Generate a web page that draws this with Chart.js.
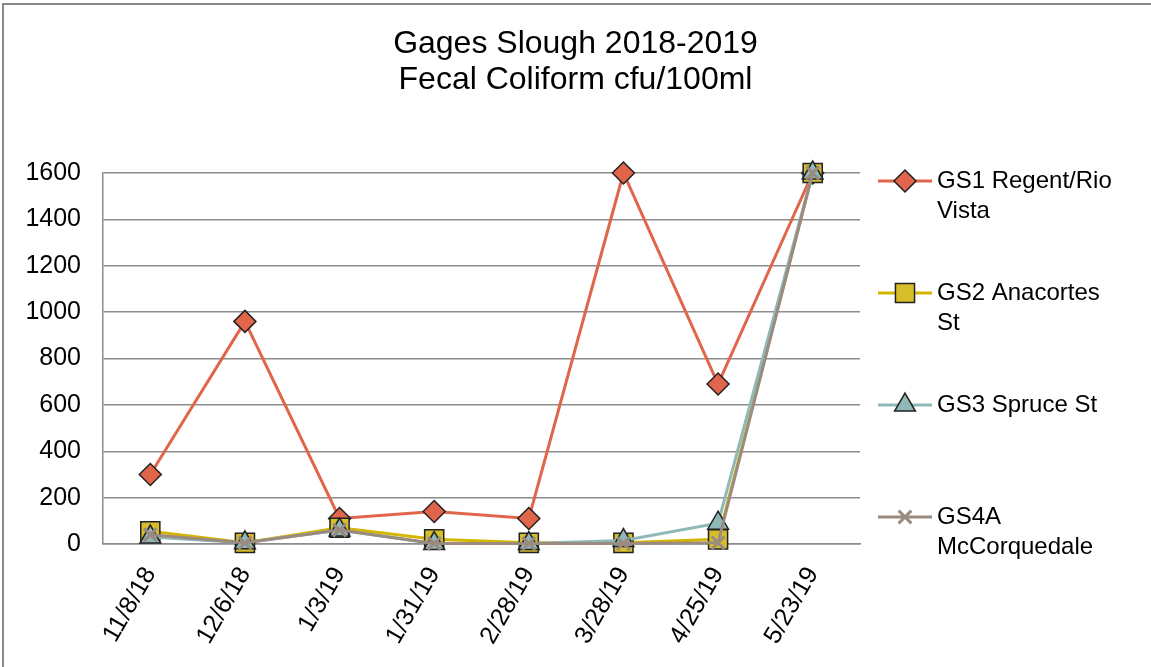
<!DOCTYPE html>
<html>
<head>
<meta charset="utf-8">
<script src="https://cdn.jsdelivr.net/npm/chart.js@4/dist/chart.umd.min.js"></script>
<style>
  html, body { margin: 0; padding: 0; background: #ffffff; }
  #wrap { width: 1151px; height: 667px; position: relative; }
</style>
</head>
<body>
<div id="wrap"><canvas id="c" width="1151" height="667"></canvas></div>
<script>
const titleLines = ['Gages Slough 2018-2019', 'Fecal Coliform cfu/100ml'];
const categories = ['11/8/18', '12/6/18', '1/3/19', '1/31/19', '2/28/19', '3/28/19', '4/25/19', '5/23/19'];
const seriesNames = ['GS1 Regent/Rio Vista', 'GS2 Anacortes St', 'GS3 Spruce St', 'GS4A McCorquedale'];
const legendLines = [['GS1 Regent/Rio', 'Vista'], ['GS2 Anacortes', 'St'], ['GS3 Spruce St'], ['GS4A', 'McCorquedale']];
const gs1 = [300, 960, 110, 140, 110, 1600, 690, 1600];
const gs2 = [55, 5, 70, 20, 5, 5, 20, 1600];
const gs3 = [30, 5, 60, 2, 2, 15, 90, 1600];
const gs4a = [40, 5, 60, 2, 2, 2, 5, 1600];
const yTicks = [0, 200, 400, 600, 800, 1000, 1200, 1400, 1600];

const FONT = "'Liberation Sans', Arial, Helvetica, sans-serif";
const GRID = '#8c8c8c';

const styles = [
  { line: '#e0654a', fill: '#e0654a', border: '#222222', point: 'rectRot', radius: 11, bw: 1.5 },
  { line: '#d4b600', fill: '#d6bd2a', border: '#222222', point: 'rect', radius: 13.5, bw: 1.5 },
  { line: '#8fb8b8', fill: '#8fb8b8', border: '#222222', point: 'triangle', radius: 12, bw: 1.5 },
  { line: '#9a8a80', fill: '#9a8a80', border: '#9a8a80', point: 'crossRot', radius: 9, bw: 3 }
];
const values = [gs1, gs2, gs3, gs4a];

const datasets = values.map((v, i) => ({
  label: seriesNames[i],
  data: v,
  yAxisID: 'y',
  borderColor: styles[i].line,
  backgroundColor: styles[i].fill,
  borderWidth: 3,
  pointStyle: styles[i].point,
  pointRadius: styles[i].radius,
  pointHoverRadius: styles[i].radius,
  pointBackgroundColor: styles[i].fill,
  pointBorderColor: styles[i].border,
  pointBorderWidth: styles[i].bw,
  tension: 0,
  clip: false,
  order: 4 - i
}));

const frame = {
  id: 'frame',
  beforeDraw(chart) {
    const ctx = chart.ctx;
    ctx.save();
    ctx.fillStyle = '#ffffff';
    ctx.fillRect(0, 0, chart.width, chart.height);
    ctx.strokeStyle = '#8a8a8a';
    ctx.lineWidth = 2;
    ctx.strokeRect(3, 4, chart.width + 20, chart.height + 20);
    ctx.restore();
  }
};

const sideLegend = {
  id: 'sideLegend',
  afterDraw(chart) {
    const ctx = chart.ctx;
    const ys = [181, 293, 405, 517];
    ctx.save();
    chart.data.datasets.forEach((ds, i) => {
      const y = ys[i];
      ctx.beginPath();
      ctx.strokeStyle = ds.borderColor;
      ctx.lineWidth = 3;
      ctx.moveTo(878, y);
      ctx.lineTo(932, y);
      ctx.stroke();
      ctx.fillStyle = ds.pointBackgroundColor;
      ctx.strokeStyle = ds.pointBorderColor;
      ctx.lineWidth = ds.pointBorderWidth;
      Chart.helpers.drawPoint(ctx, {
        pointStyle: ds.pointStyle,
        rotation: 0,
        radius: ds.pointRadius,
        borderWidth: ds.pointBorderWidth
      }, 905, y);
      ctx.fillStyle = '#000000';
      ctx.font = '24px ' + FONT;
      ctx.textAlign = 'left';
      ctx.textBaseline = 'middle';
      legendLines[i].forEach((t, k) => ctx.fillText(t, 937, y + k * 30));
    });
    ctx.restore();
  }
};

new Chart(document.getElementById('c'), {
  type: 'line',
  data: { labels: categories, datasets },
  plugins: [frame, sideLegend],
  options: {
    responsive: false,
    animation: false,
    layout: { padding: { left: 0, right: 0, top: 0, bottom: 0 } },
    plugins: {
      legend: { display: false },
      tooltip: { enabled: false },
      title: {
        display: true,
        fullSize: true,
        text: titleLines,
        color: '#000000',
        font: { family: FONT, size: 32, weight: 'normal', lineHeight: 1.1 },
        padding: { top: 27, bottom: 75.6 }
      }
    },
    scales: {
      x: {
        offset: true,
        grid: { display: false, drawTicks: false },
        border: { display: true, color: GRID, width: 1.5 },
        ticks: {
          color: '#000000',
          font: { family: FONT, size: 25 },
          minRotation: 60,
          maxRotation: 60,
          padding: 18,
          autoSkip: false
        },
        afterFit(scale) { scale.height = 123; }
      },
      y: {
        position: 'left',
        min: 0,
        max: 1600,
        afterBuildTicks(scale) { scale.ticks = yTicks.map(v => ({ value: v })); },
        grid: { color: GRID, lineWidth: 1.5, drawTicks: false },
        border: { display: true, color: GRID, width: 1.5 },
        ticks: {
          color: '#000000',
          font: { family: FONT, size: 25 },
          padding: 22,
          callback: (v) => String(v)
        },
        afterFit(scale) { scale.width = 103; }
      },
      yRight: {
        position: 'right',
        display: true,
        min: 0,
        max: 1600,
        grid: { display: false, drawTicks: false },
        border: { display: false },
        ticks: { display: false },
        afterFit(scale) { scale.width = 291; }
      }
    }
  }
});
</script>
</body>
</html>
